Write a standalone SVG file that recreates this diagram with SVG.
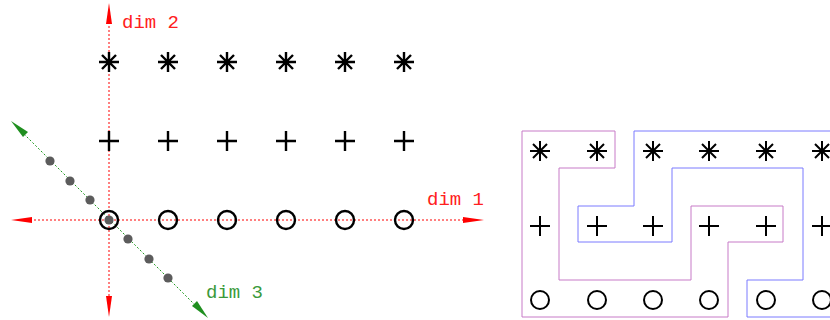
<svg xmlns="http://www.w3.org/2000/svg" width="830" height="320" viewBox="0 0 830 320">
  <style>
    .axis-r { stroke: #ff0000; stroke-width: 1; stroke-dasharray: 2 2; fill: none; }
    .axis-g { stroke: #1f9a1f; stroke-width: 1; stroke-dasharray: 2 2; fill: none; }
    .sym { stroke: #000; fill: none; stroke-linecap: butt; }
    .dot { fill: #5c5c5c; }
    .lab { font-family: "Liberation Mono", "DejaVu Sans Mono", monospace; font-size: 19px; }
    .pink { stroke: #c77ac7; stroke-width: 1; fill: none; }
    .blue { stroke: #7a7aff; stroke-width: 1; fill: none; }
  </style>
  <defs>
    <g id="star">
      <path d="M-10 0H10M0 -10V10M-7 -7L7 7M-7 7L7 -7"/>
    </g>
    <g id="plus">
      <path d="M-10 0H10M0 -10V10"/>
    </g>
    <g id="ring">
      <circle r="9"/>
    </g>
  </defs>

  <!-- left: three axes -->
  <g id="axes">
    <line class="axis-r" x1="109" y1="22" x2="109" y2="298"/>
    <line class="axis-r" x1="30" y1="220" x2="465" y2="220"/>
    <line class="axis-g" x1="24" y1="134" x2="194" y2="304"/>
    <path d="M109 3 L112 24 L106 24 Z" fill="#ff0000"/>
    <path d="M109 317 L112 296 L106 296 Z" fill="#ff0000"/>
    <path d="M11 220 L32 217 L32 223 Z" fill="#ff0000"/>
    <path d="M484 220 L463 217 L463 223 Z" fill="#ff0000"/>
    <path d="M11 121 L28 132 L23 137 Z" fill="#1f8f1f"/>
    <path d="M208 318 L197 301 L192 306 Z" fill="#1f8f1f"/>
    <text class="lab" x="122" y="28" fill="#ff2020">dim 2</text>
    <text class="lab" x="427" y="205" fill="#ff2020">dim 1</text>
    <text class="lab" x="206" y="298" fill="#3a9a3a">dim 3</text>
  </g>

  <g id="dim3-points">
    <circle class="dot" cx="50" cy="161" r="4.6"/>
    <circle class="dot" cx="70" cy="181" r="4.6"/>
    <circle class="dot" cx="90" cy="200" r="4.6"/>
    <circle class="dot" cx="109" cy="220" r="4.6"/>
    <circle class="dot" cx="128" cy="239" r="4.6"/>
    <circle class="dot" cx="149" cy="259" r="4.6"/>
    <circle class="dot" cx="168" cy="278" r="4.6"/>
  </g>

  <g id="grid-left">
    <g class="sym" stroke-width="2.4">
      <use href="#star" x="109" y="62"/><use href="#star" x="168" y="62"/><use href="#star" x="227" y="62"/>
      <use href="#star" x="286" y="62"/><use href="#star" x="345" y="62"/><use href="#star" x="404" y="62"/>
      <use href="#plus" x="109" y="141"/><use href="#plus" x="168" y="141"/><use href="#plus" x="227" y="141"/>
      <use href="#plus" x="286" y="141"/><use href="#plus" x="345" y="141"/><use href="#plus" x="404" y="141"/>
      <use href="#ring" x="109" y="220"/><use href="#ring" x="168" y="220"/><use href="#ring" x="227" y="220"/>
      <use href="#ring" x="286" y="220"/><use href="#ring" x="345" y="220"/><use href="#ring" x="404" y="220"/>
    </g>
  </g>

  <!-- right: snake ordering outlines -->
  <g id="paths">
    <path class="pink" d="M522 131 H615 V168 H559 V280 H691 V206 H783 V242 H728 V317 H522 Z"/>
    <path class="blue" d="M840 131 H634 V206 H578 V242 H672 V168 H803 V280 H747 V317 H840"/>
  </g>

  <g id="grid-right">
    <g class="sym" stroke-width="2">
      <use href="#star" x="540" y="151"/><use href="#star" x="597" y="151"/><use href="#star" x="653" y="151"/>
      <use href="#star" x="709" y="151"/><use href="#star" x="766" y="151"/><use href="#star" x="822" y="151"/>
      <use href="#plus" x="540" y="226"/><use href="#plus" x="597" y="226"/><use href="#plus" x="653" y="226"/>
      <use href="#plus" x="709" y="226"/><use href="#plus" x="766" y="226"/><use href="#plus" x="822" y="226"/>
      <use href="#ring" x="540" y="300"/><use href="#ring" x="597" y="300"/><use href="#ring" x="653" y="300"/>
      <use href="#ring" x="709" y="300"/><use href="#ring" x="766" y="300"/><use href="#ring" x="822" y="300"/>
    </g>
  </g>
</svg>
